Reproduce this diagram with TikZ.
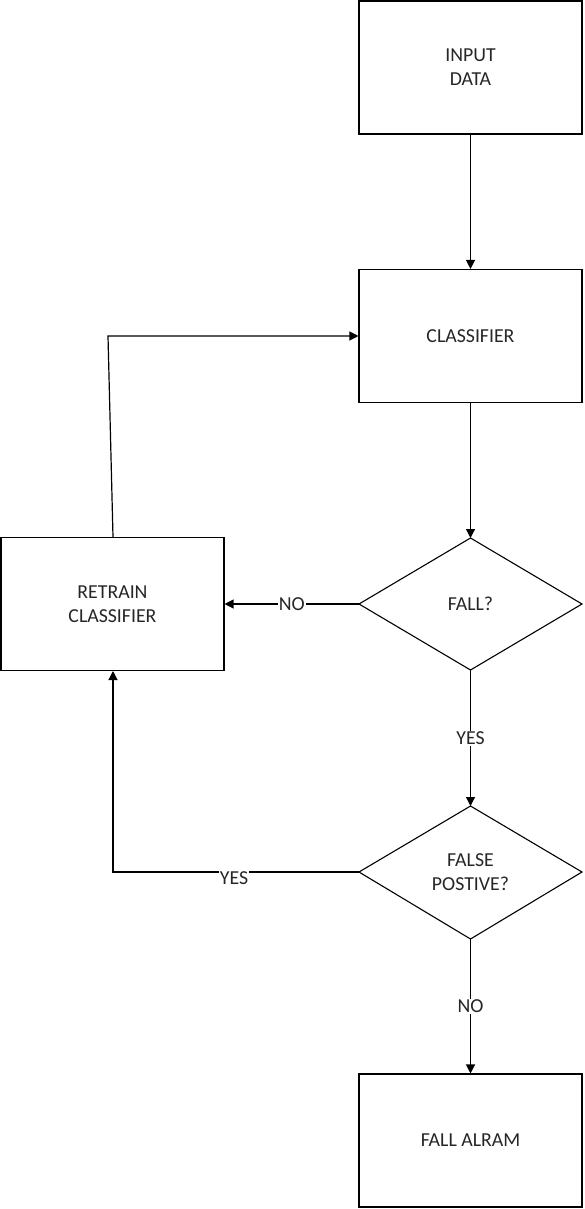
\documentclass[tikz,border=0pt]{standalone}
\usepackage{fontspec}
\setmainfont{Carlito}
\usetikzlibrary{arrows.meta}
\begin{document}
\begin{tikzpicture}[x=1pt,y=-1pt,
  every node/.style={font=\fontsize{19.8}{24}\selectfont, text=black!85, align=center},
  box/.style={draw, line width=1.1pt, minimum width=223pt, minimum height=133pt, inner sep=0pt},
  shapeline/.style={line width=1.1pt},
  conn/.style={line width=1.2pt, -{Triangle[length=9pt,width=9pt]}},
  lab/.style={fill=white, inner sep=1pt}]
\useasboundingbox (0,0) rectangle (584,1209);
\node[box] (input) at (470.5,67.5) {INPUT\\DATA};
\node[box] (clf) at (470.5,336) {CLASSIFIER};
\node[box] (retrain) at (112.5,604) {RETRAIN\\CLASSIFIER};
\node[box] (alarm) at (470.5,1140.5) {FALL ALRAM};
% diamonds drawn as polygons
\coordinate (f1t) at (470.5,538);
\coordinate (f1b) at (470.5,670);
\coordinate (f1l) at (359,604);
\coordinate (f1r) at (582,604);
\coordinate (f2t) at (470.5,806);
\coordinate (f2b) at (470.5,939);
\coordinate (f2l) at (359,872);
\coordinate (f2r) at (582,872);
\draw[shapeline] (f1t) -- (f1r) -- (f1b) -- (f1l) -- cycle;
\draw[shapeline] (f2t) -- (f2r) -- (f2b) -- (f2l) -- cycle;
\node (fall) at (470.5,604) {FALL?};
\node (fp) at (470.5,872) {FALSE\\POSTIVE?};
\coordinate (rtop) at (113,537);
\coordinate (rbot) at (113,671);
\coordinate (c1) at (108,336);
\coordinate (c2) at (113,872);
\draw[conn] (input) -- (clf);
\draw[conn] (clf.south) -- (f1t);
\draw[conn] (f1l) -- node[lab] {NO} (retrain.east);
\draw[conn] (f1b) -- node[lab] {YES} (f2t);
\draw[conn] (f2l) -- (c2) -- (rbot);
\node[lab] (yes2) at (234,878) {YES};
\draw[conn] (rtop) -- (c1) -- (clf.west);
\draw[conn] (f2b) -- node[lab] {NO} (alarm.north);
\end{tikzpicture}
\end{document}
